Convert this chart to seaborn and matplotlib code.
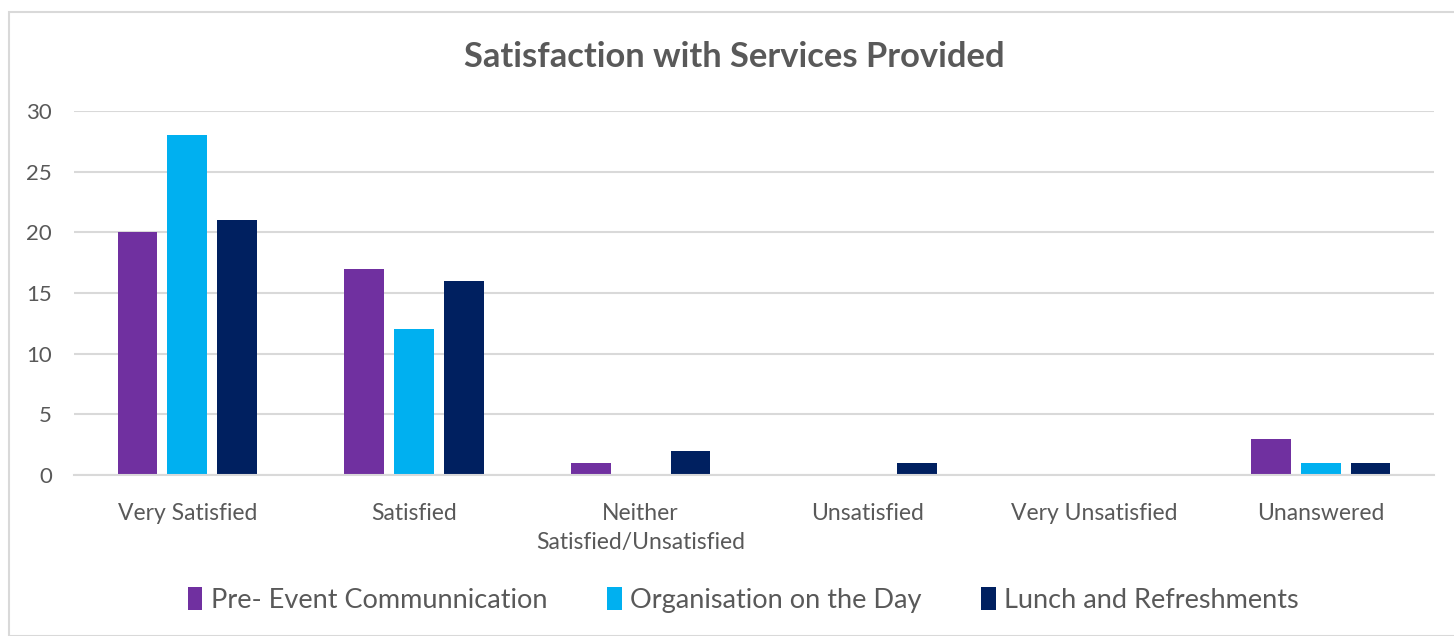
"""
Satisfaction with Services Provided - grouped bar chart
"""

import matplotlib.pyplot as plt
import matplotlib.patches as mpatches
import seaborn as sns
import pandas as pd

categories = ["Very Satisfied", "Satisfied", "Neither\nSatisfied/Unsatisfied",
              "Unsatisfied", "Very Unsatisfied", "Unanswered"]
series = ["Pre- Event Communnication", "Organisation on the Day", "Lunch and Refreshments"]
pre_event = [20, 17, 1, 0, 0, 3]
organisation = [28, 12, 0, 0, 0, 1]
lunch = [21, 16, 2, 1, 0, 1]
colors = ["#7030A0", "#00B0F0", "#002060"]
yticks = [0, 5, 10, 15, 20, 25, 30]


def main():
    rows = []
    for name, vals in zip(series, [pre_event, organisation, lunch]):
        for cat, v in zip(categories, vals):
            rows.append({"Category": cat, "Series": name, "Count": v})
    df = pd.DataFrame(rows)

    sns.set_style("white")
    plt.rcParams["font.family"] = ["Lato", "DejaVu Sans"]
    text_color = "#595959"
    grid_color = "#D9D9D9"

    fig = plt.figure(figsize=(14.54, 6.36), dpi=100)
    ax = fig.add_axes([74 / 1454, 1 - 475 / 636, 1360 / 1454, 364 / 636])

    # outer chart frame
    fig.patches.append(mpatches.Rectangle(
        (9 / 1454, 0), 1.0, 1 - 12 / 636, transform=fig.transFigure,
        fill=False, edgecolor=grid_color, linewidth=1.5))

    sns.barplot(data=df, x="Category", y="Count", hue="Series",
                palette=colors, width=0.66, gap=0.2, ax=ax,
                order=categories, hue_order=series, saturation=1,
                linewidth=0)

    ax.set_ylim(0, 30)
    ax.set_yticks(yticks)
    ax.yaxis.grid(True, color=grid_color, linewidth=1.5)
    ax.set_axisbelow(True)
    for side in ["top", "right", "left"]:
        ax.spines[side].set_visible(False)
    ax.spines["bottom"].set_color(grid_color)
    ax.spines["bottom"].set_linewidth(1.5)
    ax.tick_params(axis="both", length=0, colors=text_color)
    ax.tick_params(axis="y", pad=16, labelsize=16)
    ax.tick_params(axis="x", pad=20, labelsize=16.5)
    for lbl in ax.get_xticklabels():
        lbl.set_linespacing(1.5)
        lbl.set_verticalalignment("top")
    ax.set_xlabel("")
    ax.set_ylabel("")

    fig.text(0.505, 1 - 57 / 636, "Satisfaction with Services Provided",
             ha="center", va="center", fontsize=24.8, fontweight="bold",
             color=text_color)

    handles, labels = ax.get_legend_handles_labels()
    ax.legend(handles, labels, loc="center", bbox_to_anchor=(0.511, 1 - 600 / 636),
              bbox_transform=fig.transFigure, ncol=3, frameon=False,
              fontsize=19.5, labelcolor=text_color, handlelength=0.55,
              handleheight=0.9, handletextpad=0.3, columnspacing=2.2)

    plt.savefig("out.png", dpi=100)
    plt.close()


if __name__ == "__main__":
    main()
